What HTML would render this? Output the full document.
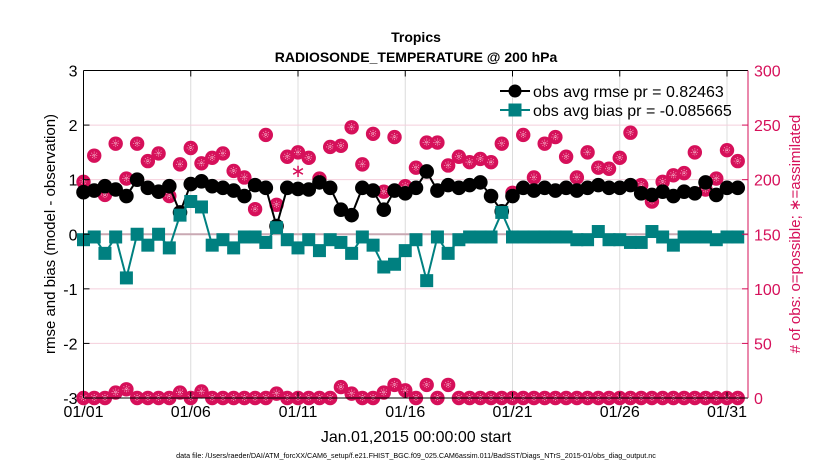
<!DOCTYPE html>
<html><head><meta charset="utf-8"><style>
body{margin:0;background:#fff;}
svg{display:block;font-family:"Liberation Sans",Arial,sans-serif;}
</style></head><body>
<svg id="chart" width="830" height="470" viewBox="0 0 830 470">
<rect width="830" height="470" fill="#fff"/>
<g id="grid"></g><g id="series"></g><g id="axes"></g>
<text x="416" y="42" text-anchor="middle" font-size="14" font-weight="bold">Tropics</text>
<text x="416" y="62" text-anchor="middle" font-size="14" font-weight="bold">RADIOSONDE_TEMPERATURE @ 200 hPa</text>
<text x="416" y="442" text-anchor="middle" font-size="16">Jan.01,2015 00:00:00 start</text>
<text x="416" y="458" text-anchor="middle" font-size="7.2">data file: /Users/raeder/DAI/ATM_forcXX/CAM6_setup/f.e21.FHIST_BGC.f09_025.CAM6assim.011/BadSST/Diags_NTrS_2015-01/obs_diag_output.nc</text>
<text transform="translate(55,234) rotate(-90)" text-anchor="middle" font-size="15">rmse and bias (model - observation)</text>
<text transform="translate(800,234) rotate(-90)" text-anchor="middle" font-size="15" fill="#d6105a"># of obs: o=possible; ∗=assimilated</text>
<g>
<line x1="500" y1="91" x2="530" y2="91" stroke="#000" stroke-width="2"/>
<circle cx="515" cy="91" r="6.5" fill="#000"/>
<text x="533" y="97" font-size="16">obs avg rmse pr = 0.82463</text>
<line x1="500" y1="110" x2="530" y2="110" stroke="#008080" stroke-width="2"/>
<rect x="508.5" y="103.5" width="13" height="13" fill="#008080"/>
<text x="533" y="116" font-size="16">obs avg bias pr = -0.085665</text>
</g>
</svg>
<script>
const rmse=[0.77,0.8,0.88,0.82,0.7,1.0,0.85,0.78,0.88,0.4,0.92,0.97,0.88,0.85,0.8,0.7,0.9,0.85,0.15,0.85,0.83,0.82,0.95,0.85,0.45,0.35,0.85,0.8,0.45,0.8,0.75,0.85,1.15,0.8,0.9,0.85,0.9,0.95,0.7,0.42,0.7,0.85,0.8,0.85,0.8,0.85,0.8,0.85,0.9,0.85,0.85,0.9,0.75,0.72,0.78,0.7,0.78,0.75,0.95,0.72,0.85,0.85];
const bias=[-0.1,-0.05,-0.35,-0.05,-0.8,0.0,-0.2,0.0,-0.25,0.35,0.6,0.5,-0.2,-0.1,-0.25,-0.05,-0.05,-0.15,0.12,-0.1,-0.25,-0.1,-0.3,-0.1,-0.15,-0.35,-0.05,-0.2,-0.6,-0.55,-0.3,-0.1,-0.85,-0.05,-0.35,-0.1,-0.05,-0.05,-0.05,0.4,-0.05,-0.05,-0.05,-0.05,-0.05,-0.05,-0.1,-0.1,0.05,-0.1,-0.1,-0.15,-0.15,0.05,-0.05,-0.2,-0.05,-0.05,-0.05,-0.1,-0.05,-0.05];
const possible=[198,222,186,233,201,233,217,224,185,214,229,215,220,224,208,202,173,241,177,221,225,220,201,230,231,248,214,242,189,239,194,211,234,234,213,221,216,219,216,233,188,241,202,233,239,221,202,225,211,210,220,243,195,180,198,204,206,225,191,201,227,217];
const assimilated=[198,222,186,233,201,233,217,224,185,214,229,215,220,224,208,202,173,241,177,221,210,220,201,230,231,248,214,242,189,239,194,211,234,234,213,221,216,219,216,233,188,241,202,233,239,221,202,225,211,210,220,243,195,180,198,204,206,225,191,201,227,217];
const lowCount=[0,0,0,5,8,0,0,0,0,5,0,6,0,0,0,0,0,0,4,0,0,0,0,0,10,4,0,0,5,12,7,0,12,0,12,0,0,0,0,0,0,0,0,0,0,0,0,0,0,0,0,0,0,0,0,0,0,0,0,0,0,0];
const xTicks=["01/01","01/06","01/11","01/16","01/21","01/26","01/31"];
const leftTicks=[-3,-2,-1,0,1,2,3];
const rightTicks=[0,50,100,150,200,250,300];

const NS="http://www.w3.org/2000/svg";
const X0=83.5,X1=748,Y0=70.5,Y1=398,PXD=21.45;
const xd=d=>X0+d*PXD;
const xi=i=>xd(i/2);
const yl=v=>Y1-(v+3)/6*(Y1-Y0);
const yr=v=>Y1-v/300*(Y1-Y0);
function mk(tag,attrs,parent){const e=document.createElementNS(NS,tag);for(const k in attrs)e.setAttribute(k,attrs[k]);parent.appendChild(e);return e;}
const grid=document.getElementById('grid'),ser=document.getElementById('series'),ax=document.getElementById('axes');
xTicks.forEach((t,k)=>{const x=xd(k*5);
 const l=mk('line',{x1:x,y1:Y0,x2:x,y2:Y1,stroke:'#dcdcdc','stroke-width':1},grid);
 
 
 const tx=mk('text',{x:x,y:417,'text-anchor':'middle','font-size':16},ax);tx.textContent=t;
 
 
 mk('line',{x1:x,y1:Y1,x2:x,y2:Y1-6,stroke:'#000'},ax);
 mk('line',{x1:x,y1:Y0,x2:x,y2:Y0+6,stroke:'#000'},ax);
});
rightTicks.forEach(v=>{const y=yr(v);
 const l=mk('line',{x1:X0,y1:y,x2:X1,y2:y,stroke:'#f4cfdc','stroke-width':1},grid);
 
 
 mk('line',{x1:X1,y1:y,x2:X1-6,y2:y,stroke:'#d6105a'},ax);
 const t=mk('text',{x:X1+6,y:y+6,'font-size':16,fill:'#d6105a'},ax);t.textContent=v;
 
 
});
leftTicks.forEach(v=>{const y=yl(v);
 mk('line',{x1:X0,y1:y,x2:X0+6,y2:y,stroke:'#000'},ax);
 const t=mk('text',{x:X0-6,y:y+6,'font-size':16,'text-anchor':'end'},ax);t.textContent=v;
 
 
});
const zl=mk('line',{x1:X0,y1:yl(0),x2:X1,y2:yl(0),stroke:'#c9a9b3','stroke-width':2},grid);


mk('line',{x1:X0,y1:Y0,x2:X0,y2:Y1,stroke:'#000'},ax);
mk('line',{x1:X0,y1:Y0,x2:X1,y2:Y0,stroke:'#000'},ax);
mk('line',{x1:X0,y1:Y1,x2:X1,y2:Y1,stroke:'#000'},ax);
mk('line',{x1:X1,y1:Y0,x2:X1,y2:Y1,stroke:'#d6105a'},ax);

function pinkMarker(cx,cy,name){
 const g=mk('g',{},ser);
 
 
 mk('circle',{cx:cx,cy:cy,r:7.2,fill:'#d6105a'},g);
 for(let a=0;a<4;a++){const an=a*Math.PI/4;
  mk('line',{x1:cx-4*Math.cos(an),y1:cy-4*Math.sin(an),x2:cx+4*Math.cos(an),y2:cy+4*Math.sin(an),stroke:'#f7b5cc','stroke-width':0.8,'stroke-dasharray':'1 1'},g);}
}
possible.forEach((v,i)=>pinkMarker(xi(i),yr(v),'obs-possible-point'));
assimilated.forEach((v,i)=>{if(v!==possible[i]){
 const s=mk('text',{x:xi(i),y:yr(v)+8,'text-anchor':'middle','font-size':18,fill:'#d6105a'},ser);s.textContent='∗';
 
 }});
lowCount.forEach((v,i)=>pinkMarker(xi(i),yr(v),'obs-count-low-point'));
const rl=mk('polyline',{points:rmse.map((v,i)=>xi(i)+','+yl(v)).join(' '),fill:'none',stroke:'#000','stroke-width':2},ser);


rmse.forEach((v,i)=>{const c=mk('circle',{cx:xi(i),cy:yl(v),r:7.3,fill:'#000'},ser);
 
 });
const bl=mk('polyline',{points:bias.map((v,i)=>xi(i)+','+yl(v)).join(' '),fill:'none',stroke:'#008080','stroke-width':2},ser);


bias.forEach((v,i)=>{const r=mk('rect',{x:xi(i)-6.5,y:yl(v)-6.5,width:13,height:13,fill:'#008080'},ser);
 
 });
</script>
</body></html>
